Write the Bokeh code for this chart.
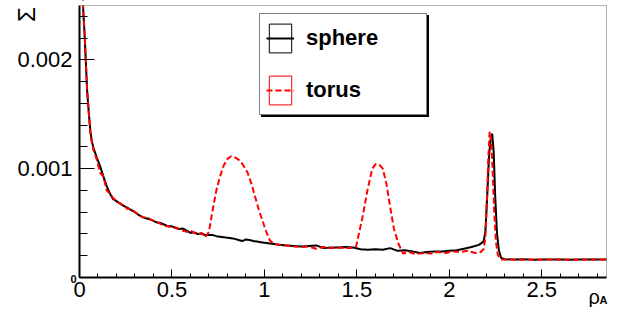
import numpy as np
from bokeh.plotting import figure
from bokeh.models import Range1d, FixedTicker, Label, Legend, LegendItem, BoxAnnotation
from bokeh.embed import file_html
from bokeh.resources import INLINE

# ---------------- data ----------------
series_names = ["sphere", "torus"]

x_sphere = [0.008, 0.015, 0.02, 0.027, 0.034, 0.041, 0.05, 0.059, 0.067, 0.076,
            0.094, 0.112, 0.129, 0.147, 0.165, 0.182, 0.21, 0.236, 0.26, 0.28,
            0.30, 0.32, 0.34, 0.36, 0.38, 0.40, 0.42, 0.44, 0.46, 0.48,
            0.50, 0.52, 0.54, 0.56, 0.58, 0.60, 0.62, 0.64, 0.66, 0.68,
            0.70, 0.72, 0.74, 0.76, 0.78, 0.80, 0.82, 0.84, 0.86, 0.88,
            0.90, 0.92, 0.94, 0.96, 0.98, 1.00, 1.04, 1.08, 1.12, 1.16,
            1.20, 1.24, 1.28, 1.32, 1.36, 1.40, 1.44, 1.48, 1.52, 1.56,
            1.60, 1.64, 1.68, 1.72, 1.76, 1.80, 1.84, 1.88, 1.92, 1.96,
            2.00, 2.04, 2.08, 2.12, 2.16, 2.185, 2.195, 2.205, 2.215, 2.225,
            2.232, 2.240, 2.248, 2.258, 2.268, 2.28, 2.30, 2.35, 2.40, 2.45,
            2.50, 2.55, 2.60, 2.65, 2.70, 2.75, 2.80, 2.85]
y_sphere = [3.6e-3, 2.75e-3, 2.46e-3, 2.25e-3, 1.99e-3, 1.72e-3, 1.52e-3, 1.34e-3, 1.25e-3, 1.19e-3,
            1.10e-3, 1.02e-3, 0.93e-3, 0.84e-3, 0.77e-3, 0.72e-3, 0.69e-3, 0.66e-3, 0.64e-3, 0.62e-3,
            0.60e-3, 0.575e-3, 0.555e-3, 0.545e-3, 0.535e-3, 0.52e-3, 0.505e-3, 0.50e-3, 0.485e-3, 0.47e-3,
            0.47e-3, 0.455e-3, 0.445e-3, 0.45e-3, 0.43e-3, 0.41e-3, 0.415e-3, 0.40e-3, 0.405e-3, 0.39e-3,
            0.39e-3, 0.39e-3, 0.38e-3, 0.375e-3, 0.37e-3, 0.365e-3, 0.36e-3, 0.355e-3, 0.345e-3, 0.335e-3,
            0.35e-3, 0.345e-3, 0.335e-3, 0.33e-3, 0.325e-3, 0.32e-3, 0.31e-3, 0.30e-3, 0.295e-3, 0.29e-3,
            0.285e-3, 0.29e-3, 0.295e-3, 0.27e-3, 0.275e-3, 0.275e-3, 0.28e-3, 0.275e-3, 0.26e-3, 0.255e-3,
            0.26e-3, 0.255e-3, 0.27e-3, 0.245e-3, 0.25e-3, 0.24e-3, 0.225e-3, 0.235e-3, 0.24e-3, 0.24e-3,
            0.245e-3, 0.25e-3, 0.265e-3, 0.28e-3, 0.30e-3, 0.33e-3, 0.42e-3, 0.75e-3, 1.12e-3, 1.30e-3,
            1.32e-3, 1.15e-3, 0.75e-3, 0.40e-3, 0.25e-3, 0.18e-3, 0.168e-3, 0.165e-3, 0.167e-3, 0.164e-3,
            0.166e-3, 0.165e-3, 0.166e-3, 0.164e-3, 0.165e-3, 0.166e-3, 0.165e-3, 0.165e-3]

x_torus = [0.008, 0.015, 0.02, 0.027, 0.034, 0.041, 0.05, 0.059, 0.067, 0.076,
           0.094, 0.112, 0.129, 0.147, 0.165, 0.182, 0.21, 0.236, 0.26, 0.28,
           0.30, 0.32, 0.34, 0.36, 0.38, 0.40, 0.42, 0.44, 0.46, 0.48,
           0.50, 0.52, 0.54, 0.56, 0.58, 0.60, 0.62, 0.64, 0.66, 0.68,
           0.70, 0.72, 0.74, 0.76, 0.78, 0.80, 0.82, 0.835, 0.85, 0.87,
           0.89, 0.91, 0.93, 0.95, 0.97, 0.99, 1.01, 1.03, 1.05, 1.08,
           1.12, 1.16, 1.20, 1.24, 1.28, 1.32, 1.36, 1.40, 1.44, 1.47,
           1.495, 1.53, 1.557, 1.583, 1.60, 1.62, 1.64, 1.66, 1.68, 1.70,
           1.725, 1.75, 1.78, 1.82, 1.86, 1.90, 1.94, 1.98, 2.02, 2.06,
           2.10, 2.14, 2.17, 2.185, 2.195, 2.203, 2.211, 2.218, 2.226, 2.234,
           2.243, 2.252, 2.262, 2.275, 2.29, 2.32, 2.36, 2.40, 2.45, 2.50,
           2.55, 2.60, 2.65, 2.70, 2.75, 2.80, 2.85]
y_torus = [3.6e-3, 2.78e-3, 2.47e-3, 2.27e-3, 2.0e-3, 1.74e-3, 1.52e-3, 1.33e-3, 1.24e-3, 1.17e-3,
           1.08e-3, 0.96e-3, 0.93e-3, 0.80e-3, 0.77e-3, 0.73e-3, 0.69e-3, 0.665e-3, 0.63e-3, 0.63e-3,
           0.60e-3, 0.58e-3, 0.555e-3, 0.55e-3, 0.54e-3, 0.52e-3, 0.51e-3, 0.49e-3, 0.475e-3, 0.47e-3,
           0.46e-3, 0.46e-3, 0.445e-3, 0.43e-3, 0.42e-3, 0.43e-3, 0.41e-3, 0.395e-3, 0.41e-3, 0.37e-3,
           0.42e-3, 0.62e-3, 0.80e-3, 0.93e-3, 1.03e-3, 1.09e-3, 1.115e-3, 1.11e-3, 1.095e-3, 1.07e-3,
           1.02e-3, 0.96e-3, 0.86e-3, 0.74e-3, 0.62e-3, 0.52e-3, 0.42e-3, 0.34e-3, 0.31e-3, 0.30e-3,
           0.295e-3, 0.285e-3, 0.28e-3, 0.285e-3, 0.265e-3, 0.28e-3, 0.27e-3, 0.275e-3, 0.27e-3, 0.27e-3,
           0.28e-3, 0.55e-3, 0.80e-3, 1.00e-3, 1.04e-3, 1.04e-3, 1.00e-3, 0.86e-3, 0.65e-3, 0.45e-3,
           0.31e-3, 0.22e-3, 0.235e-3, 0.215e-3, 0.225e-3, 0.22e-3, 0.235e-3, 0.225e-3, 0.24e-3, 0.235e-3,
           0.245e-3, 0.225e-3, 0.235e-3, 0.26e-3, 0.36e-3, 0.70e-3, 1.10e-3, 1.34e-3, 1.28e-3, 1.00e-3,
           0.60e-3, 0.33e-3, 0.21e-3, 0.17e-3, 0.165e-3, 0.166e-3, 0.164e-3, 0.166e-3, 0.165e-3, 0.164e-3,
           0.166e-3, 0.165e-3, 0.165e-3, 0.164e-3, 0.166e-3, 0.165e-3, 0.165e-3]

x_axis_limits = [0, 2.85]
y_axis_limits = [0, 0.0025]
x_ticks = [0, 0.5, 1, 1.5, 2, 2.5]
x_tick_labels = ["0", "0.5", "1", "1.5", "2", "2.5"]
x_minor_ticks = [0.1, 0.2, 0.3, 0.4, 0.6, 0.7, 0.8, 0.9, 1.1, 1.2, 1.3, 1.4, 1.6, 1.7,
                 1.8, 1.9, 2.1, 2.2, 2.3, 2.4, 2.6, 2.7, 2.8]
y_ticks = [0, 0.001, 0.002]
y_tick_labels = ["", "0.001", "0.002"]
y_minor_ticks = [0.0002, 0.0004, 0.0006, 0.0008, 0.0012, 0.0014, 0.0016, 0.0018,
                 0.0022, 0.0024]
y_title = "Σ"
x_title = "ρ"
x_title_sub = "A"
y_zero_label = "0"

FONT = "Liberation Sans"

# ---------------- layout (pixels) ----------------
W, H = 609, 307
FR_L, FR_R, FR_T, FR_B = 79, 606, 5, 277   # visible ROOT-style frame box, canvas px

sx = (FR_R - FR_L) / (x_axis_limits[1] - x_axis_limits[0])
sy = (FR_B - FR_T) / (y_axis_limits[1] - y_axis_limits[0])
x_lo = x_axis_limits[0] - FR_L / sx
x_hi = x_axis_limits[1] + (W - FR_R) / sx
y_lo = y_axis_limits[0] - (H - FR_B) / sy
y_hi = y_axis_limits[1] + FR_T / sy

p = figure(width=W, height=H,
           x_range=Range1d(x_lo, x_hi), y_range=Range1d(y_lo, y_hi),
           output_backend="svg", toolbar_location=None,
           min_border_left=0, min_border_right=0, min_border_top=0, min_border_bottom=0)
p.xgrid.visible = False
p.ygrid.visible = False
p.outline_line_color = None
p.background_fill_color = "white"
p.border_fill_color = "white"

xa = p.xaxis[0]
xa.fixed_location = 0
xa.bounds = tuple(x_axis_limits)
xa.ticker = FixedTicker(ticks=x_ticks, minor_ticks=x_minor_ticks)
xa.major_label_overrides = {float(t): l for t, l in zip(x_ticks, x_tick_labels)}
ya = p.yaxis[0]
ya.fixed_location = 0
ya.bounds = tuple(y_axis_limits)
ya.ticker = FixedTicker(ticks=y_ticks, minor_ticks=y_minor_ticks)
ya.major_label_overrides = {float(t): l for t, l in zip(y_ticks, y_tick_labels)}

for ax in (xa, ya):
    ax.axis_line_width = 2
    ax.axis_line_color = "black"
    ax.major_tick_out = 0
    ax.minor_tick_out = 0
    ax.major_tick_line_color = "black"
    ax.minor_tick_line_color = "black"
    ax.major_label_text_font = FONT
    ax.major_label_text_font_size = "22px"
    ax.major_label_text_color = "black"
xa.major_tick_in = 8
xa.minor_tick_in = 4
xa.major_label_standoff = 4
ya.major_tick_in = 15
ya.minor_tick_in = 8
ya.major_label_standoff = 7

# ---------------- curves ----------------
l_sphere = p.line(x_sphere, y_sphere, line_color="black", line_width=2)
l_torus = p.line(x_torus, y_torus, line_color="red", line_width=2, line_dash="6 3")

# hidden boxes (NaN position), used only as legend symbol frames
nan = float("nan")
b_sphere = p.rect(x=[nan], y=[nan], width=[nan], height=[nan], fill_alpha=0,
                  line_color="black", line_width=1)
b_torus = p.rect(x=[nan], y=[nan], width=[nan], height=[nan], fill_alpha=0,
                 line_color="red", line_width=1)

# mask above the frame (curves are clipped at the frame top) and the frame box itself
p.add_layout(BoxAnnotation(left=x_axis_limits[0], right=x_axis_limits[1],
                           bottom=y_axis_limits[1], top=y_hi,
                           fill_color="white", fill_alpha=1, line_color=None))
p.add_layout(BoxAnnotation(left=x_axis_limits[0], right=x_axis_limits[1],
                           bottom=y_axis_limits[0], top=y_axis_limits[1],
                           fill_alpha=0, line_color="black", line_width=1))

items = [LegendItem(label=series_names[0], renderers=[b_sphere, l_sphere]),
         LegendItem(label=series_names[1], renderers=[b_torus, l_torus])]
shadow_items = [LegendItem(label=" ", renderers=[b_sphere]),
                LegendItem(label=" ", renderers=[b_torus])]

common = dict(orientation="vertical", glyph_width=28, glyph_height=36, label_standoff=12,
              padding=6, spacing=16, margin=0, label_width=114, label_height=36,
              label_text_font=FONT, label_text_font_style="bold", label_text_font_size="22px",
              border_line_width=1)
LEG_L, LEG_B = 259, H - 115
shadow = Legend(items=shadow_items, location=(LEG_L + 2, LEG_B - 2), border_line_color="black",
                background_fill_color="black", background_fill_alpha=1, **common)
legend = Legend(items=items, location=(LEG_L, LEG_B), border_line_color="black",
                background_fill_color="white", background_fill_alpha=1,
                label_text_color="black", **common)
p.add_layout(shadow)
p.add_layout(legend)

# ---------------- extra texts (ROOT-style axis titles) ----------------
p.add_layout(Label(x=26, y=H - 14, x_units="screen", y_units="screen", text=y_title,
                   angle=np.pi / 2, text_align="center", text_baseline="middle",
                   text_font=FONT, text_font_size="24px", text_color="black"))
p.add_layout(Label(x=588, y=H - 296, x_units="screen", y_units="screen", text=x_title,
                   text_align="left", text_baseline="alphabetic",
                   text_font=FONT, text_font_size="20px", text_color="black"))
p.add_layout(Label(x=599, y=H - 299, x_units="screen", y_units="screen", text=x_title_sub,
                   text_align="left", text_baseline="alphabetic", text_font_style="bold",
                   text_font=FONT, text_font_size="11px", text_color="black"))
p.add_layout(Label(x=76, y=H - FR_B - 1, x_units="screen", y_units="screen", text=y_zero_label,
                   text_align="right", text_baseline="middle", text_font_style="bold",
                   text_font=FONT, text_font_size="11px", text_color="black"))

open("out.html", "w").write(file_html(p, INLINE))
